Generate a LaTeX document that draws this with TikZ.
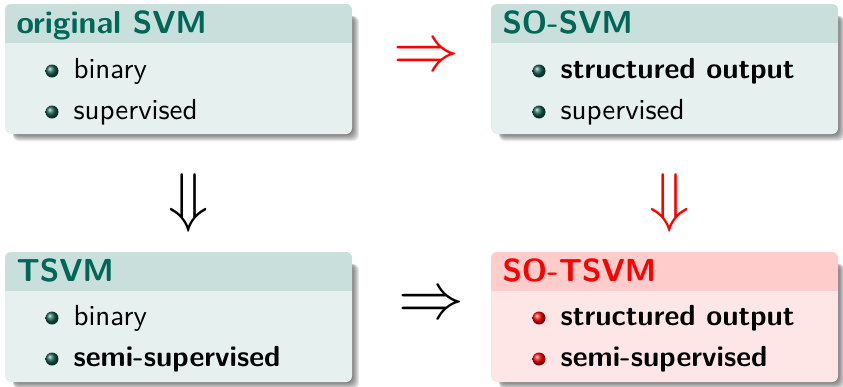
\documentclass[tikz,border=0pt]{standalone}
\usepackage{fontspec}
\definecolor{tealtitlebg}{RGB}{200,223,220}
\definecolor{tealbodybg}{RGB}{230,240,239}
\definecolor{tealfg}{RGB}{0,102,88}
\definecolor{tealball}{RGB}{20,95,80}
\definecolor{redtitlebg}{RGB}{255,204,204}
\definecolor{redbodybg}{RGB}{255,230,230}
\definecolor{redfg}{RGB}{255,0,0}
\tikzset{
  ttl/.style={inner sep=0pt, anchor=base west, scale=2.65,
    font=\sffamily\bfseries\fontsize{12}{14.5}\selectfont},
  itm/.style={inner sep=0pt, anchor=base west, scale=2.65,
    font=\sffamily\fontsize{10.95}{13.6}\selectfont},
  itmb/.style={itm, font=\sffamily\bfseries\fontsize{10.95}{13.6}\selectfont},
  bigarrow/.style={inner sep=0pt, scale=2.65, font=\fontsize{24.88}{30}\selectfont},
}
% #1 left, #2 top, #3 title colour, #4 body colour
\newcommand\drawblockbox[4]{%
  \foreach \s in {0,...,7}{%
    \fill[black,opacity=0.085,rounded corners=6pt]
      ({#1+8},{#2+12}) rectangle ({#1+347+\s},{#2+130+\s});
  }%
  \fill[#4,rounded corners=6pt] (#1,#2) rectangle ({#1+347},{#2+130});
  \begin{scope}
    \clip[rounded corners=6pt] (#1,#2) rectangle ({#1+347},{#2+130});
    \fill[#3] (#1,#2) rectangle ({#1+347},{#2+39});
  \end{scope}
}
\newcommand\ballbullet[3]{% x y colour
  \shade[ball color=#3] (#1,#2) circle (6.5pt);
}
\begin{document}
\begin{tikzpicture}[x=1pt,y=-1pt]
\useasboundingbox (0,0) rectangle (843,386);

% ---- block 1: original SVM
\drawblockbox{5}{4}{tealtitlebg}{tealbodybg}
\node[ttl, text=tealfg] (t1) at (16,33) {original SVM};
\ballbullet{52}{71}{tealball}
\node[itm] (i1a) at (73,78) {binary};
\ballbullet{52}{112}{tealball}
\node[itm] (i1b) at (73,119) {supervised};

% ---- block 2: SO-SVM
\drawblockbox{491}{4}{tealtitlebg}{tealbodybg}
\node[ttl, text=tealfg] (t2) at (502,33) {SO-SVM};
\ballbullet{539}{71}{tealball}
\node[itmb] (i2a) at (560,78) {structured output};
\ballbullet{539}{112}{tealball}
\node[itm] (i2b) at (560,119) {supervised};

% ---- block 3: TSVM
\drawblockbox{5}{252}{tealtitlebg}{tealbodybg}
\node[ttl, text=tealfg] (t3) at (16,281) {TSVM};
\ballbullet{52}{318}{tealball}
\node[itm] (i3a) at (73,325) {binary};
\ballbullet{52}{359}{tealball}
\node[itmb] (i3b) at (73,366) {semi-supervised};

% ---- block 4: SO-TSVM
\drawblockbox{491}{252}{redtitlebg}{redbodybg}
\node[ttl, text=redfg] (t4) at (502,281) {SO-TSVM};
\ballbullet{539}{318}{red}
\node[itmb] (i4a) at (560,325) {structured output};
\ballbullet{539}{359}{red}
\node[itmb] (i4b) at (560,366) {semi-supervised};

% ---- arrows
\node[bigarrow, text=red] (a12) at (426.5,58) {$\Rightarrow$};
\node[bigarrow] (a34) at (431,306) {$\Rightarrow$};
\node[bigarrow] (a13) at (188.5,203.5) {$\Downarrow$};
\node[bigarrow, text=red] (a24) at (669.5,203.5) {$\Downarrow$};
\end{tikzpicture}
\end{document}
